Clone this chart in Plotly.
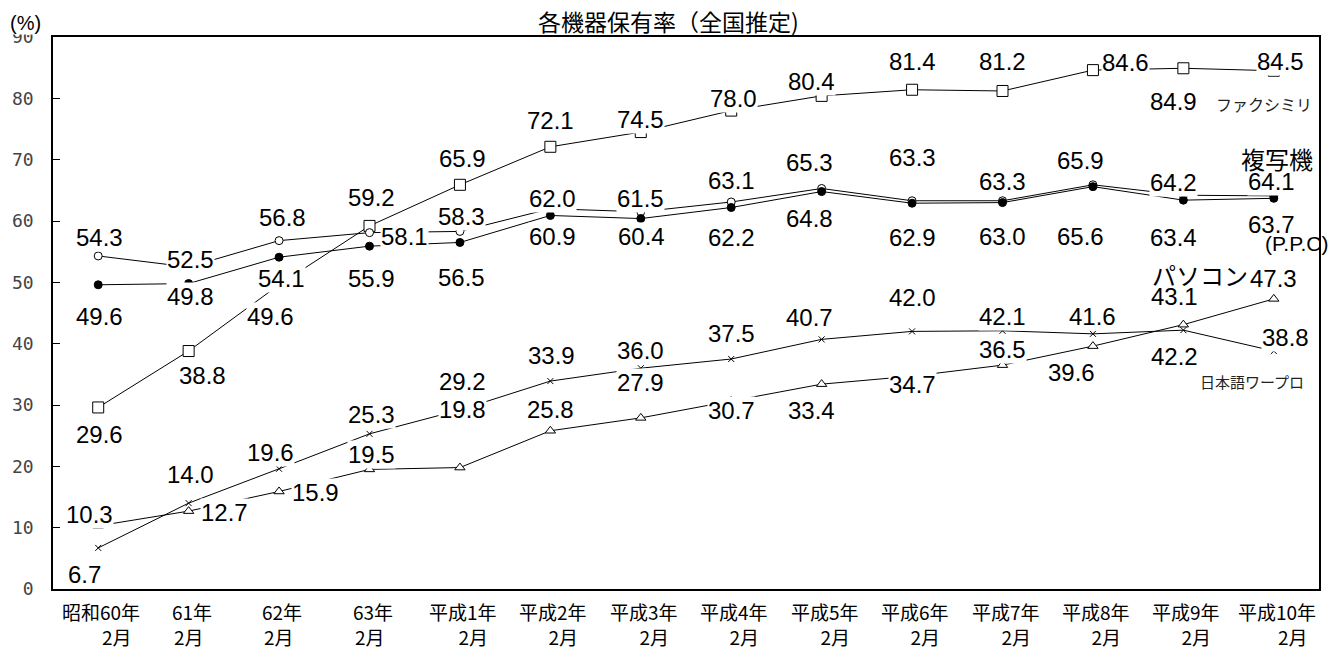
import plotly.graph_objects as go

# Survey points (February of each year)
periods = ["昭和60年", "61年", "62年", "63年", "平成1年", "平成2年", "平成3年",
           "平成4年", "平成5年", "平成6年", "平成7年", "平成8年", "平成9年", "平成10年"]
month_label = "2月"
categories = [p + month_label for p in periods]

# Ownership rate (%) by device
facsimile = [29.6, 38.8, 49.6, 59.2, 65.9, 72.1, 74.5, 78.0, 80.4, 81.4, 81.2, 84.6, 84.9, 84.5]
copier = [54.3, 52.5, 56.8, 58.1, 58.3, 62.0, 61.5, 63.1, 65.3, 63.3, 63.3, 65.9, 64.2, 64.1]
copier_ppc = [49.6, 49.8, 54.1, 55.9, 56.5, 60.9, 60.4, 62.2, 64.8, 62.9, 63.0, 65.6, 63.4, 63.7]
personal_computer = [10.3, 12.7, 15.9, 19.5, 19.8, 25.8, 27.9, 30.7, 33.4, 34.7, 36.5, 39.6, 43.1, 47.3]
word_processor = [6.7, 14.0, 19.6, 25.3, 29.2, 33.9, 36.0, 37.5, 40.7, 42.0, 42.1, 41.6, 42.2, 38.8]

y_ticks = [0, 10, 20, 30, 40, 50, 60, 70, 80, 90]

# Label placement (pixel offsets from each point: right, down)
fax_off = [(1, 27), (14, 24), (-9, 32), (2, -28), (3, -26), (0, -26), (0, -13),
           (2, -12), (-10, -14), (0, -28), (0, -29), (33, -8), (-10, 33), (7, -9)]
copier_off = [(1, -18), (2, -8), (3, -23), (35, 4), (2, -15), (2, -10), (0, -13),
              (0, -21), (-12, -26), (0, -43), (0, -19), (-12, -24), (-10, -13), (-2, -14)]
ppc_off = [(1, 32), (2, 13), (2, 21), (2, 32), (2, 35), (2, 21), (1, 18),
           (0, 30), (-12, 27), (0, 34), (0, 34), (-12, 50), (-10, 37), (-2, 26)]
pc_off = [(-9, -11), (36, 1), (36, 1), (2, -15), (3, -58), (0, -21), (0, -35),
          (0, 10), (-10, 26), (0, 8), (0, -16), (-21, 26), (-9, -28), (0, -20)]
wp_off = [(-14, 27), (2, -29), (-9, -16), (2, -19), (3, -28), (1, -26), (0, -18),
          (0, -26), (-12, -22), (0, -34), (0, -14), (0, -17), (-9, 26), (12, -14)]

W, H = 1336, 651
L, R, T, B = 50, 17, 37, 62
PW, PH = W - L - R, H - T - B

LABEL_FONT = dict(family="Liberation Sans, Arial, sans-serif", size=24, color="black")
JP_FONT = "Noto Sans CJK JP, sans-serif"

fig = go.Figure()

series = [
    (facsimile, dict(symbol="square", size=11, color="white", line=dict(color="black", width=1))),
    (copier, dict(symbol="circle", size=8, color="white", line=dict(color="black", width=1))),
    (copier_ppc, dict(symbol="circle", size=8, color="black", line=dict(color="black", width=1))),
    (personal_computer, dict(symbol="triangle-up", size=9, color="white", line=dict(color="black", width=1))),
    (word_processor, dict(symbol="x-thin", size=6, color="black", line=dict(color="black", width=1))),
]
for values, marker in series:
    fig.add_trace(go.Scatter(
        x=categories, y=values, mode="lines+markers",
        line=dict(color="black", width=1), marker=marker,
        showlegend=False, hoverinfo="skip",
    ))

annotations = []
for values, offsets in [(facsimile, fax_off), (copier, copier_off), (copier_ppc, ppc_off),
                        (personal_computer, pc_off), (word_processor, wp_off)]:
    for cat, v, (dx, dy) in zip(categories, values, offsets):
        annotations.append(dict(
            x=cat, y=v, xref="x", yref="y", text=f"{v:.1f}", showarrow=False,
            xshift=dx, yshift=-dy, font=LABEL_FONT, bgcolor="white", borderpad=0,
        ))

# Two-line category labels under the axis
for cat, p in zip(categories, periods):
    annotations.append(dict(
        x=cat, xref="x", y=0, yref="paper", yanchor="top", xanchor="center",
        text=f"{p}<br>{month_label}\u00a0\u00a0", align="right", showarrow=False,
        xshift=3, yshift=-8, borderpad=0,
        font=dict(family=JP_FONT, size=19, color="black"),
    ))


def px_x(px):
    return (px - L) / PW


def px_y(py):
    return (H - B - py) / PH


# Series names
names = [
    ("ファクシミリ", 1264, 104, dict(family=JP_FONT, size=16, color="#222")),
    ("複写機", 1277, 158, dict(family=JP_FONT, size=24, color="black")),
    ("(P.P.C)", 1296, 243, dict(family="Liberation Sans Narrow, Liberation Sans, sans-serif", size=21, color="black")),
    ("パソコン", 1200, 274, dict(family=JP_FONT, size=24, color="black")),
    ("日本語ワープロ", 1252, 381, dict(family=JP_FONT, size=15, color="#222")),
]
for text, x, y, font in names:
    annotations.append(dict(
        x=px_x(x), y=px_y(y), xref="paper", yref="paper", text=text,
        showarrow=False, xanchor="center", yanchor="middle", font=font,
    ))

# Unit marker and title
annotations.append(dict(
    x=px_x(22), y=px_y(23), xref="paper", yref="paper", text="(%)", showarrow=False,
    xanchor="center", yanchor="middle", bgcolor="white", borderpad=0,
    font=dict(family="Liberation Sans, Arial, sans-serif", size=20, color="black"),
))
annotations.append(dict(
    x=px_x(667), y=px_y(21), xref="paper", yref="paper", text="各機器保有率（全国推定)",
    showarrow=False, xanchor="center", yanchor="middle",
    font=dict(family=JP_FONT, size=23, color="black"),
))

fig.update_layout(
    width=W, height=H,
    margin=dict(l=L, r=R, t=T, b=B, pad=0),
    paper_bgcolor="white", plot_bgcolor="white",
    annotations=annotations,
    xaxis=dict(
        type="category", range=[-0.5, len(categories) - 0.5],
        showticklabels=False, ticks="", showgrid=False, zeroline=False,
        showline=True, linecolor="black", linewidth=1.5, mirror=True,
    ),
    yaxis=dict(
        range=[0, 90], tickvals=y_ticks, ticks="inside", ticklen=7, tickcolor="black",
        showgrid=False, zeroline=False, showline=True, linecolor="black", linewidth=1.5,
        mirror=True, ticklabelstandoff=14,
        tickfont=dict(family="DejaVu Sans Mono, monospace", size=18, color="#444"),
    ),
)

fig.write_html("out.html")
